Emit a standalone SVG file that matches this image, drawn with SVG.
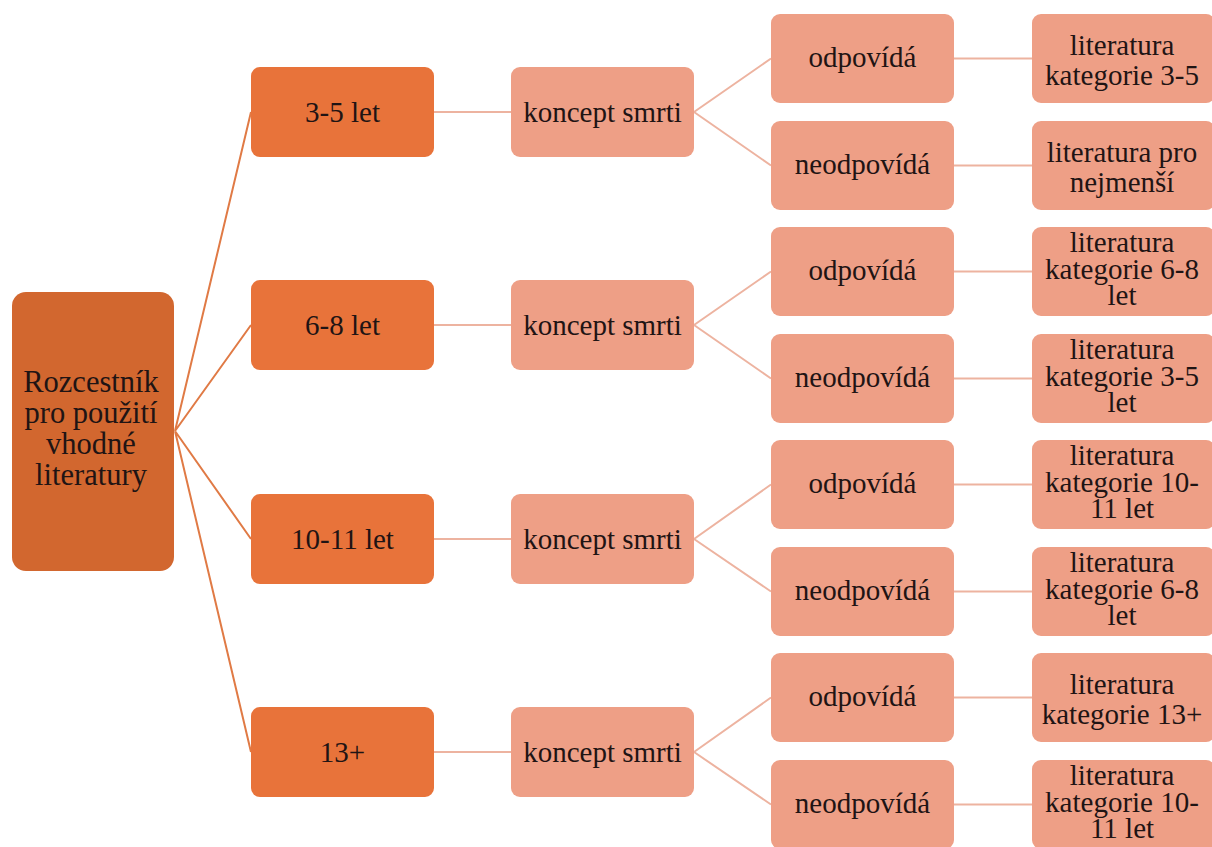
<svg xmlns="http://www.w3.org/2000/svg" width="1212" height="847" viewBox="0 0 1212 847">
<style>
.root{fill:#d2672f}
.l1{fill:#e8733a}
.sal{fill:#ee9f86}
.c1{stroke:#e07a45;stroke-width:2;fill:none}
.c2{stroke:#edb3a0;stroke-width:2;fill:none}
</style>
<rect width="1212" height="847" fill="#ffffff"/>
<g id="connectors">
<path class="c1" d="M175 431L251 112M175 431L251 325M175 431L251 539M175 431L251 752"/>
<path class="c2" d="M434 112H511M434 325H511M434 539H511M434 752H511"/>
<path class="c2" d="M694 112L771 58.5M694 112L771 165.5M694 325L771 271.5M694 325L771 378.5M694 539L771 484.5M694 539L771 591.5M694 752L771 697.5M694 752L771 804.5"/>
<path class="c2" d="M954 58.5H1032M954 165.5H1032M954 271.5H1032M954 378.5H1032M954 484.5H1032M954 591.5H1032M954 697.5H1032M954 804.5H1032"/>
</g>
<g id="nodes" font-family="Liberation Serif" font-size="29" fill="#1f1414" text-anchor="middle">
<g id="root" font-size="30.5">
<rect class="root" x="12" y="292" width="162" height="279" rx="14"/>
<text x="91" y="392">Rozcestník</text>
<text x="91" y="423">pro použití</text>
<text x="91" y="454">vhodné</text>
<text x="91" y="485">literatury</text>
</g>
<g id="age-3-5"><rect class="l1" x="251" y="67" width="183" height="90" rx="9"/><text x="342.5" y="122">3-5 let</text></g>
<g id="age-6-8"><rect class="l1" x="251" y="280" width="183" height="90" rx="9"/><text x="342.5" y="335">6-8 let</text></g>
<g id="age-10-11"><rect class="l1" x="251" y="494" width="183" height="90" rx="9"/><text x="342.5" y="549">10-11 let</text></g>
<g id="age-13"><rect class="l1" x="251" y="707" width="183" height="90" rx="9"/><text x="342.5" y="762">13+</text></g>
<g id="koncept-1"><rect class="sal" x="511" y="67" width="183" height="90" rx="9"/><text x="602.5" y="122">koncept smrti</text></g>
<g id="koncept-2"><rect class="sal" x="511" y="280" width="183" height="90" rx="9"/><text x="602.5" y="335">koncept smrti</text></g>
<g id="koncept-3"><rect class="sal" x="511" y="494" width="183" height="90" rx="9"/><text x="602.5" y="549">koncept smrti</text></g>
<g id="koncept-4"><rect class="sal" x="511" y="707" width="183" height="90" rx="9"/><text x="602.5" y="762">koncept smrti</text></g>
<g id="ans-1a"><rect class="sal" x="771" y="14" width="183" height="89" rx="9"/><text x="862.5" y="67">odpovídá</text></g>
<g id="ans-1b"><rect class="sal" x="771" y="121" width="183" height="89" rx="9"/><text x="862.5" y="174">neodpovídá</text></g>
<g id="ans-2a"><rect class="sal" x="771" y="227" width="183" height="89" rx="9"/><text x="862.5" y="280">odpovídá</text></g>
<g id="ans-2b"><rect class="sal" x="771" y="334" width="183" height="89" rx="9"/><text x="862.5" y="387">neodpovídá</text></g>
<g id="ans-3a"><rect class="sal" x="771" y="440" width="183" height="89" rx="9"/><text x="862.5" y="493">odpovídá</text></g>
<g id="ans-3b"><rect class="sal" x="771" y="547" width="183" height="89" rx="9"/><text x="862.5" y="600">neodpovídá</text></g>
<g id="ans-4a"><rect class="sal" x="771" y="653" width="183" height="89" rx="9"/><text x="862.5" y="706">odpovídá</text></g>
<g id="ans-4b"><rect class="sal" x="771" y="760" width="183" height="89" rx="9"/><text x="862.5" y="813">neodpovídá</text></g>
<g id="lit-1a"><rect class="sal" x="1032" y="14" width="183" height="89" rx="9"/><text x="1122" y="55">literatura</text><text x="1122" y="85">kategorie 3-5</text></g>
<g id="lit-1b"><rect class="sal" x="1032" y="121" width="183" height="89" rx="9"/><text x="1122" y="162">literatura pro</text><text x="1122" y="192">nejmenší</text></g>
<g id="lit-2a"><rect class="sal" x="1032" y="227" width="183" height="89" rx="9"/><text x="1122" y="252">literatura</text><text x="1122" y="278.5">kategorie 6-8</text><text x="1122" y="305">let</text></g>
<g id="lit-2b"><rect class="sal" x="1032" y="334" width="183" height="89" rx="9"/><text x="1122" y="359">literatura</text><text x="1122" y="385.5">kategorie 3-5</text><text x="1122" y="412">let</text></g>
<g id="lit-3a"><rect class="sal" x="1032" y="440" width="183" height="89" rx="9"/><text x="1122" y="465">literatura</text><text x="1122" y="491.5">kategorie 10-</text><text x="1122" y="518">11 let</text></g>
<g id="lit-3b"><rect class="sal" x="1032" y="547" width="183" height="89" rx="9"/><text x="1122" y="572">literatura</text><text x="1122" y="598.5">kategorie 6-8</text><text x="1122" y="625">let</text></g>
<g id="lit-4a"><rect class="sal" x="1032" y="653" width="183" height="89" rx="9"/><text x="1122" y="694">literatura</text><text x="1122" y="724">kategorie 13+</text></g>
<g id="lit-4b"><rect class="sal" x="1032" y="760" width="183" height="89" rx="9"/><text x="1122" y="785">literatura</text><text x="1122" y="811.5">kategorie 10-</text><text x="1122" y="838">11 let</text></g>
</g>
</svg>
